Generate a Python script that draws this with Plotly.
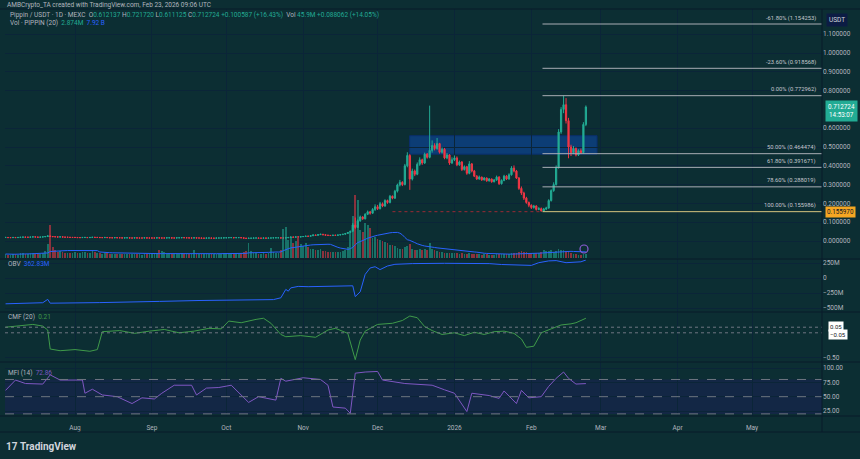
import pandas as pd
import plotly.graph_objects as go

W, H = 860, 459
def px(x): return x / W
def py(y): return 1 - y / H

BG = "#0c2e33"
GRID = "#0b2538"
SEP = "#081a2a"
TXT = "#b2b5be"
UP = "#22ab94"
DN = "#f23645"
FONT = "Roboto, 'Liberation Sans', sans-serif"

# ---------------- daily OHLCV (Jul 4 2025 .. Feb 23 2026) ----------------
dates = pd.date_range("2025-07-04", "2026-02-23", freq="D")

opens = [
 0.019,0.019,0.018,0.018,0.019,0.018,0.019,0.020,0.021,0.020,0.020,0.021,0.022,0.021,0.020,0.021,0.022,0.024,0.027,0.024,0.023,0.022,0.021,0.022,0.021,0.020,0.020,0.019,
 0.019,0.019,0.018,0.018,0.019,0.019,0.018,0.019,0.020,0.019,0.019,0.018,0.018,0.019,0.018,0.017,0.017,0.018,0.017,0.017,0.016,0.017,0.017,0.016,0.016,0.017,0.016,0.016,0.016,0.017,0.016,
 0.016,0.016,0.016,0.017,0.016,0.016,0.016,0.017,0.017,0.016,0.016,0.017,0.017,0.018,0.017,0.017,0.016,0.016,0.017,0.016,0.016,0.015,0.015,0.016,0.016,0.015,0.015,0.016,0.016,0.016,
 0.017,0.017,0.018,0.018,0.017,0.018,0.018,0.017,0.015,0.014,0.015,0.015,0.016,0.016,0.015,0.015,0.016,0.015,0.016,0.016,0.017,0.017,0.017,0.016,0.016,0.017,0.019,0.021,0.020,0.022,0.021,
 0.023,0.024,0.026,0.025,0.028,0.032,0.030,0.034,0.036,0.033,0.031,0.030,0.029,0.031,0.030,0.032,0.034,0.036,0.040,0.045,0.052,0.085,0.072,0.108,0.128,0.118,0.142,0.155,0.148,0.168,
 0.182,0.172,0.198,0.186,0.215,0.205,0.238,0.228,0.265,0.298,0.312,0.300,0.400,0.455,0.330,0.372,0.355,0.408,0.432,0.415,0.462,0.445,0.482,0.508,0.492,0.518,0.472,0.488,0.442,0.458,0.415,
 0.432,0.442,0.405,0.420,0.380,0.395,0.360,0.410,0.372,0.345,0.330,0.340,0.325,0.335,0.320,0.330,0.315,0.325,0.340,0.305,0.322,0.345,0.330,0.352,0.388,0.372,0.335,0.280,0.255,0.228,0.205,
 0.190,0.178,0.186,0.168,0.172,0.160,0.170,0.175,0.215,0.268,0.300,0.390,0.580,0.700,0.725,0.640,0.500,0.470,0.492,0.458,0.480,0.470,0.620,
]
highs = [
 0.020,0.020,0.019,0.020,0.020,0.020,0.021,0.022,0.022,0.021,0.022,0.023,0.023,0.022,0.022,0.023,0.025,0.030,0.028,0.025,0.024,0.023,0.023,0.023,0.022,0.021,0.021,0.020,
 0.020,0.020,0.019,0.020,0.020,0.020,0.020,0.021,0.021,0.020,0.020,0.019,0.020,0.020,0.019,0.018,0.019,0.019,0.018,0.018,0.018,0.018,0.018,0.017,0.018,0.018,0.017,0.017,0.018,0.018,0.017,
 0.017,0.017,0.018,0.018,0.017,0.017,0.018,0.018,0.018,0.017,0.018,0.018,0.019,0.019,0.018,0.018,0.017,0.018,0.018,0.017,0.017,0.016,0.017,0.017,0.017,0.016,0.017,0.017,0.017,0.018,
 0.018,0.019,0.019,0.019,0.019,0.019,0.019,0.018,0.016,0.016,0.016,0.017,0.017,0.017,0.016,0.017,0.017,0.017,0.017,0.018,0.018,0.018,0.018,0.017,0.018,0.021,0.024,0.023,0.024,0.023,0.025,
 0.025,0.027,0.027,0.029,0.034,0.033,0.035,0.038,0.037,0.034,0.032,0.031,0.032,0.032,0.033,0.035,0.037,0.042,0.047,0.055,0.095,0.125,0.115,0.135,0.132,0.148,0.162,0.160,0.175,0.195,
 0.192,0.208,0.205,0.222,0.220,0.245,0.242,0.272,0.305,0.325,0.318,0.410,0.472,0.462,0.385,0.380,0.418,0.445,0.438,0.470,0.468,0.720,0.535,0.520,0.548,0.522,0.498,0.495,0.468,0.462,0.445,
 0.455,0.450,0.428,0.425,0.402,0.400,0.425,0.415,0.378,0.350,0.348,0.342,0.340,0.338,0.335,0.332,0.330,0.348,0.345,0.328,0.352,0.350,0.360,0.398,0.402,0.378,0.340,0.290,0.262,0.235,0.210,
 0.195,0.192,0.190,0.180,0.178,0.176,0.182,0.222,0.275,0.312,0.402,0.595,0.712,0.773,0.760,0.655,0.512,0.505,0.498,0.488,0.492,0.632,0.721,
]
lows = [
 0.018,0.017,0.017,0.018,0.017,0.018,0.019,0.020,0.019,0.019,0.020,0.021,0.020,0.019,0.020,0.021,0.022,0.023,0.023,0.022,0.021,0.020,0.021,0.020,0.019,0.019,0.018,0.018,
 0.018,0.017,0.017,0.017,0.018,0.017,0.017,0.018,0.018,0.018,0.017,0.017,0.017,0.017,0.016,0.016,0.016,0.016,0.016,0.015,0.015,0.016,0.015,0.015,0.015,0.015,0.015,0.015,0.015,0.015,0.015,
 0.015,0.015,0.015,0.015,0.015,0.015,0.015,0.016,0.015,0.015,0.015,0.016,0.016,0.016,0.016,0.015,0.015,0.015,0.015,0.015,0.014,0.014,0.014,0.015,0.014,0.014,0.014,0.015,0.015,0.015,
 0.016,0.016,0.017,0.016,0.016,0.017,0.016,0.014,0.012,0.013,0.014,0.014,0.015,0.014,0.014,0.014,0.014,0.014,0.015,0.015,0.016,0.016,0.015,0.015,0.015,0.016,0.018,0.019,0.019,0.020,0.020,
 0.022,0.023,0.024,0.024,0.027,0.029,0.029,0.033,0.032,0.030,0.029,0.028,0.028,0.029,0.029,0.031,0.033,0.035,0.039,0.044,0.050,0.065,0.070,0.102,0.112,0.115,0.138,0.140,0.145,0.160,
 0.165,0.168,0.180,0.182,0.198,0.200,0.222,0.224,0.258,0.290,0.292,0.296,0.392,0.272,0.322,0.345,0.350,0.400,0.405,0.410,0.438,0.440,0.470,0.482,0.485,0.465,0.465,0.435,0.435,0.405,0.410,
 0.425,0.398,0.400,0.372,0.375,0.352,0.355,0.365,0.340,0.325,0.326,0.320,0.322,0.315,0.316,0.310,0.312,0.320,0.298,0.300,0.318,0.325,0.326,0.348,0.365,0.330,0.272,0.245,0.218,0.198,0.180,
 0.170,0.172,0.162,0.164,0.156,0.158,0.165,0.172,0.210,0.262,0.295,0.385,0.570,0.680,0.625,0.440,0.452,0.462,0.450,0.452,0.462,0.465,0.611,
]
closes = [
 0.019,0.018,0.018,0.019,0.018,0.019,0.020,0.021,0.020,0.020,0.021,0.022,0.021,0.020,0.021,0.022,0.024,0.027,0.024,0.023,0.022,0.021,0.022,0.021,0.020,0.020,0.019,0.019,
 0.019,0.018,0.018,0.019,0.019,0.018,0.019,0.020,0.019,0.019,0.018,0.018,0.019,0.018,0.017,0.017,0.018,0.017,0.017,0.016,0.017,0.017,0.016,0.016,0.017,0.016,0.016,0.016,0.017,0.016,0.016,
 0.016,0.016,0.017,0.016,0.016,0.016,0.017,0.017,0.016,0.016,0.017,0.017,0.018,0.017,0.017,0.016,0.016,0.017,0.016,0.016,0.015,0.015,0.016,0.016,0.015,0.015,0.016,0.016,0.016,0.017,
 0.017,0.018,0.018,0.017,0.018,0.018,0.017,0.015,0.014,0.015,0.015,0.016,0.016,0.015,0.015,0.016,0.015,0.016,0.016,0.017,0.017,0.017,0.016,0.016,0.017,0.019,0.021,0.020,0.022,0.021,0.023,
 0.024,0.026,0.025,0.028,0.032,0.030,0.034,0.036,0.033,0.031,0.030,0.029,0.031,0.030,0.032,0.034,0.036,0.040,0.045,0.052,0.085,0.072,0.108,0.128,0.118,0.142,0.155,0.148,0.168,0.182,
 0.172,0.198,0.186,0.215,0.205,0.238,0.228,0.265,0.298,0.312,0.300,0.400,0.455,0.330,0.372,0.355,0.408,0.432,0.415,0.462,0.445,0.482,0.508,0.492,0.518,0.472,0.488,0.442,0.458,0.415,0.432,
 0.442,0.405,0.420,0.380,0.395,0.360,0.410,0.372,0.345,0.330,0.340,0.325,0.335,0.320,0.330,0.315,0.325,0.340,0.305,0.322,0.345,0.330,0.352,0.388,0.372,0.335,0.280,0.255,0.228,0.205,0.190,
 0.178,0.186,0.168,0.172,0.160,0.170,0.175,0.215,0.268,0.300,0.390,0.580,0.700,0.725,0.640,0.500,0.470,0.492,0.458,0.480,0.470,0.620,0.712724,
]
volumes = [  # millions
 40,35,32,45,38,35,48,55,42,40,50,55,45,42,45,55,70,140,330,110,80,65,70,60,55,50,48,50,
 60,55,50,58,62,50,55,70,58,52,48,45,50,46,42,40,44,40,38,36,40,42,38,36,40,38,36,35,40,38,36,
 40,42,55,80,75,60,45,48,40,38,42,44,50,45,42,38,40,80,45,40,38,36,42,44,38,36,40,42,44,48,
 50,55,52,45,50,48,46,60,75,150,70,55,50,45,44,48,45,50,100,60,55,48,80,290,310,180,210,150,170,200,140,
 120,150,110,90,95,80,85,90,75,70,65,60,62,58,60,65,70,85,110,250,420,630,580,280,260,350,330,300,200,210,
 190,180,170,160,150,130,130,120,100,95,90,110,120,140,95,85,80,90,85,90,80,150,95,80,70,65,60,55,52,50,48,
 50,48,45,46,44,42,48,45,40,38,36,35,38,36,34,33,35,38,40,36,38,36,40,55,50,48,60,70,65,58,55,
 55,48,52,46,62,80,75,70,85,65,70,95,85,80,75,70,48,40,36,34,32,45,40,
]
assert len(opens) == len(highs) == len(lows) == len(closes) == len(volumes) == len(dates)

# ---------------- indicators ----------------
obv_dates = ["2025-07-04","2025-07-19","2025-07-21","2025-07-22","2025-08-11","2025-09-02","2025-09-04",
             "2025-09-20","2025-10-20","2025-10-23","2025-10-24","2025-10-25","2025-10-26","2025-10-27",
             "2025-10-30","2025-11-03","2025-11-21","2025-11-22","2025-11-24","2025-11-26","2025-11-28",
             "2025-11-30","2025-12-02","2025-12-05","2025-12-08","2025-12-15","2025-12-28","2026-01-15",
             "2026-01-20","2026-02-01","2026-02-04","2026-02-08","2026-02-11","2026-02-15","2026-02-21","2026-02-23"]
obv_vals = [-430,-412,-356,-420,-410,-400,-390,-375,-360,-330,-270,-190,-220,-165,-140,-145,-130,-310,
            -230,60,167,188,140,200,228,240,245,240,225,210,255,285,290,255,270,300]

cmf_dates = ["2025-07-04","2025-07-10","2025-07-15","2025-07-19","2025-07-21","2025-07-22","2025-07-26",
             "2025-08-01","2025-08-07","2025-08-10","2025-08-12","2025-08-19","2025-08-25","2025-08-31",
             "2025-09-06","2025-09-12","2025-09-18","2025-09-24","2025-09-29","2025-10-02","2025-10-07",
             "2025-10-13","2025-10-16","2025-10-19","2025-10-23","2025-10-25","2025-10-31","2025-11-06",
             "2025-11-11","2025-11-14","2025-11-19","2025-11-22","2025-11-24","2025-11-26","2025-12-01",
             "2025-12-07","2025-12-11","2025-12-14","2025-12-17","2025-12-20","2025-12-23","2025-12-27",
             "2026-01-01","2026-01-05","2026-01-09","2026-01-13","2026-01-17","2026-01-21","2026-01-25",
             "2026-01-28","2026-01-30","2026-02-02","2026-02-05","2026-02-09","2026-02-13","2026-02-17",
             "2026-02-19","2026-02-23"]
cmf_vals = [0.05,0.08,0.10,0.07,0.00,-0.34,-0.37,-0.35,-0.38,-0.35,-0.03,-0.01,-0.06,-0.02,0.01,-0.05,
            -0.02,0.03,0.02,0.16,0.13,0.19,0.21,0.12,-0.08,-0.12,-0.10,-0.13,0.00,0.03,-0.06,-0.53,-0.18,
            -0.02,0.10,0.12,0.17,0.25,0.22,0.06,-0.01,-0.08,-0.05,-0.10,-0.04,-0.08,-0.03,-0.02,-0.06,
            -0.16,-0.31,-0.29,-0.05,0.02,0.09,0.11,0.13,0.21]

mfi_dates = ["2025-07-04","2025-07-08","2025-07-12","2025-07-19","2025-07-22","2025-07-26","2025-08-04",
             "2025-08-05","2025-08-08","2025-08-12","2025-08-18","2025-08-24","2025-08-28","2025-09-02",
             "2025-09-05","2025-09-10","2025-09-17","2025-09-19","2025-09-23","2025-09-28","2025-10-03",
             "2025-10-10","2025-10-14","2025-10-21","2025-10-23","2025-10-25","2025-11-01","2025-11-08",
             "2025-11-11","2025-11-13","2025-11-18","2025-11-20","2025-11-22","2025-11-26","2025-12-01",
             "2025-12-03","2025-12-12","2025-12-23","2025-12-28","2026-01-01","2026-01-06","2026-01-08",
             "2026-01-15","2026-01-19","2026-01-21","2026-01-26","2026-01-28","2026-01-31","2026-02-05",
             "2026-02-08","2026-02-11","2026-02-14","2026-02-16","2026-02-19","2026-02-23"]
mfi_vals = [61,79,73,72,88,79,79,56,63,53,50,38,48,46,56,70,70,53,65,66,70,40,50,44,82,77,83,80,70,
            32,30,21,91,93,94,79,73,70,62,56,24,56,52,47,60,38,61,48,50,68,82,93,82,72,72.86]

# ---------------- chart annotations / levels ----------------
fib_levels = [1.154253, 0.918568, 0.772962, 0.464474, 0.391671, 0.288019, 0.155986]
fib_names = ["-61.80%", "-23.60%", "0.00%", "50.00%", "61.80%", "78.60%", "100.00%"]
zone_low, zone_high = 0.462, 0.560
hline_price = 0.155970
last_price = 0.712724

x_range = ["2025-07-03 18:29", "2026-05-29 05:00"]
month_ticks = ["2025-08-01","2025-09-01","2025-10-01","2025-11-01","2025-12-01",
               "2026-01-01","2026-02-01","2026-03-01","2026-04-01","2026-05-01"]
month_labels = ["Aug","Sep","Oct","Nov","Dec","2026","Feb","Mar","Apr","May"]
price_ticks = [0.0,0.1,0.2,0.3,0.4,0.5,0.6,0.8,0.9,1.0,1.1]

# ---------------- figure ----------------
vol_colors = ["rgba(34,171,148,0.55)" if c >= o else "rgba(242,54,69,0.55)" for o, c in zip(opens, closes)]
vol_ma = pd.Series(volumes).rolling(20, min_periods=1).mean()

fig = go.Figure()
fig.add_trace(go.Candlestick(
    x=dates, open=opens, high=highs, low=lows, close=closes,
    increasing=dict(line=dict(color=UP, width=1), fillcolor=UP),
    decreasing=dict(line=dict(color=DN, width=1), fillcolor=DN),
    whiskerwidth=0, xaxis="x", yaxis="y", hoverinfo="skip"))
fig.add_trace(go.Bar(x=dates, y=volumes, marker=dict(color=vol_colors, line=dict(width=0)),
                     width=86400000 * 0.7, xaxis="x", yaxis="y5"))
fig.add_trace(go.Scatter(x=dates, y=vol_ma, mode="lines", line=dict(color="#2962ff", width=1),
                         xaxis="x", yaxis="y5"))
fig.add_trace(go.Scatter(x=obv_dates, y=obv_vals, mode="lines", line=dict(color="#2962ff", width=1),
                         xaxis="x2", yaxis="y2"))
fig.add_trace(go.Scatter(x=cmf_dates, y=cmf_vals, mode="lines", line=dict(color="#3f9a4a", width=1),
                         xaxis="x3", yaxis="y3"))
fig.add_trace(go.Scatter(x=mfi_dates, y=mfi_vals, mode="lines", line=dict(color="#7e57c2", width=1),
                         xaxis="x4", yaxis="y4"))

xdom = [px(5), px(822)]
def xax(anchor, labels=False):
    d = dict(domain=xdom, range=x_range, type="date", anchor=anchor, tickvals=month_ticks,
             showgrid=True, gridcolor=GRID, gridwidth=1, zeroline=False, showline=False,
             rangeslider=dict(visible=False), fixedrange=True)
    if labels:
        d.update(showticklabels=True, ticktext=month_labels, ticks="outside", ticklen=5,
                 tickcolor=BG, tickfont=dict(size=6.5, color=TXT))
    else:
        d.update(showticklabels=False)
    return d

def yax(top, bottom, rng, tickvals, ticktext, **kw):
    d = dict(domain=[py(bottom), py(top)], range=rng, anchor=kw.pop("anchor", "x"), side="right",
             tickvals=tickvals, ticktext=ticktext, showgrid=True, gridcolor=GRID, zeroline=False,
             showline=False, fixedrange=True, ticks="", tickfont=dict(size=6.5, color=TXT))
    d.update(kw)
    return d

p_top = (241 - 9) / 188
p_bot = (241 - 258) / 188
fig.update_layout(
    width=W, height=H, margin=dict(l=0, r=0, t=0, b=0),
    paper_bgcolor=BG, plot_bgcolor=BG, showlegend=False, bargap=0,
    font=dict(family=FONT, size=7, color=TXT),
    xaxis=xax("y"), xaxis2=xax("y2"), xaxis3=xax("y3"), xaxis4=xax("y4", labels=True),
    yaxis=yax(9, 258, [p_bot, p_top], price_ticks, [f"{v:.6f}" for v in price_ticks]),
    yaxis5=dict(domain=[py(258), py(9)], range=[0, 2500], overlaying="y", anchor="x",
                visible=False, fixedrange=True),
    yaxis2=yax(259, 312, [-566.7, 316.7], [250, 0, -250, -500], ["250M", "0", "\u2212250M", "\u2212500M"],
               anchor="x2"),
    yaxis3=yax(313, 361, [-0.554, 0.304], [-0.5], ["\u22120.50"], anchor="x3"),
    yaxis4=yax(362, 416, [16.3, 110.5], [100, 75, 50, 25], ["100.00", "75.00", "50.00", "25.00"],
               anchor="x4"),
)

shapes = []
shapes.append(dict(type="rect", xref="x", yref="y", x0="2025-12-13 22:00", x1="2026-02-27 12:00",
                   y0=zone_low, y1=zone_high, fillcolor="rgba(13,71,161,0.6)",
                   line=dict(color="#0a2f6e", width=1), layer="below"))
shapes.append(dict(type="line", xref="x", yref="y", x0="2025-12-07", x1="2026-02-05 12:00",
                   y0=hline_price, y1=hline_price, line=dict(color="#9a2a35", width=1, dash="dot")))
for lvl in fib_levels:
    col = "#d6c57e" if lvl == fib_levels[-1] else "#a9adb5"
    shapes.append(dict(type="line", xref="x", yref="y", x0="2026-02-05 12:00", x1=x_range[1],
                       y0=lvl, y1=lvl, line=dict(color=col, width=1)))
for v in (0.05, -0.05):
    shapes.append(dict(type="line", xref="x3 domain", yref="y3", x0=0, x1=1, y0=v, y1=v,
                       line=dict(color="#6f7682", width=1, dash="dot")))
shapes.append(dict(type="rect", xref="x4 domain", yref="y4", x0=0, x1=1, y0=20, y1=80,
                   fillcolor="rgba(40,20,120,0.28)", line=dict(width=0), layer="below"))
for v in (80, 50, 20):
    shapes.append(dict(type="line", xref="x4 domain", yref="y4", x0=0, x1=1, y0=v, y1=v,
                       line=dict(color="#6f7682", width=1, dash="dash")))
for yy in (9, 259, 312, 362, 416):
    shapes.append(dict(type="line", xref="paper", yref="paper", x0=0, x1=1, y0=py(yy), y1=py(yy),
                       line=dict(color=SEP, width=1)))
shapes.append(dict(type="line", xref="paper", yref="paper", x0=px(822), x1=px(822), y0=py(432), y1=py(9),
                   line=dict(color=SEP, width=1)))
shapes.append(dict(type="line", xref="paper", yref="paper", x0=0, x1=1, y0=py(432), y1=py(432),
                   line=dict(color=SEP, width=1)))
shapes.append(dict(type="circle", xref="paper", yref="paper", x0=px(580), x1=px(588), y0=py(253), y1=py(245),
                   line=dict(color="#8e5cd6", width=1.2)))
fig.update_layout(shapes=shapes)

ann = []
def A(x, y, text, **kw):
    d = dict(xref="paper", yref="paper", x=x, y=y, text=text, showarrow=False,
             xanchor="left", yanchor="middle", font=dict(size=6.5, color=TXT))
    d.update(kw)
    ann.append(d)

A(px(5), py(5), "AMBCrypto_TA created with TradingView.com, Feb 23, 2026 09:06 UTC")
g = "<span style='color:#22ab94'>"
A(px(8), py(14.5), "Pippin / USDT · 1D · MEXC  O" + g + "0.612137</span> H" + g + "0.721720</span> L" + g +
  "0.611125</span> C" + g + "0.712724 +0.100587 (+16.43%)</span>  Vol " + g + "45.9M</span> " + g +
  "+0.088062 (+14.05%)</span>")
A(px(8), py(22.5), "Vol · PIPPIN (20)  " + g + "2.874M</span>  <span style='color:#2962ff'>7.92 B</span>")

for lvl, name in zip(fib_levels, fib_names):
    ann.append(dict(xref="paper", yref="y", x=px(818), y=lvl, yshift=6, text=f"{name} ({lvl:.6f})",
                    showarrow=False, xanchor="right", yanchor="middle", font=dict(size=5.8, color="#c4c7ce")))

A(px(826), py(20), "USDT", bgcolor="#0c1c44", font=dict(size=6.5, color="#d1d4dc"), borderpad=2)
ann.append(dict(xref="paper", yref="y", x=px(825), y=last_price, yshift=-3.5, text="0.712724<br>14:53:07",
                showarrow=False, xanchor="left", yanchor="middle", bgcolor=UP, borderpad=2,
                font=dict(size=6.3, color="#ffffff")))
ann.append(dict(xref="paper", yref="y", x=px(825), y=hline_price, text="0.155970",
                showarrow=False, xanchor="left", yanchor="middle", bgcolor="#f5a623", borderpad=1,
                font=dict(size=6.3, color="#131722")))
ann.append(dict(xref="paper", yref="paper", x=px(828), y=py(326), text="0.05", showarrow=False,
                xanchor="left", yanchor="middle", bgcolor="#ffffff", borderpad=1, font=dict(size=6, color="#131722")))
ann.append(dict(xref="paper", yref="paper", x=px(828), y=py(334), text="\u22120.05", showarrow=False,
                xanchor="left", yanchor="middle", bgcolor="#ffffff", borderpad=1, font=dict(size=6, color="#131722")))

A(px(6), py(263.5), "OBV  <span style='color:#2962ff'>362.83M</span>")
A(px(6), py(316.5), "CMF (20)  <span style='color:#3f9a4a'>0.21</span>")
A(px(6), py(372.5), "MFI (14)  <span style='color:#7e57c2'>72.86</span>")

A(px(4), py(446), "<b>17</b> <b>TradingView</b>", font=dict(size=10, color="#d1d4dc"))

fig.update_layout(annotations=ann)
fig.write_html("out.html", config={"displayModeBar": False},
               post_script="document.body.style.margin='0';document.body.style.overflow='hidden';"
                           "document.body.style.background='" + BG + "';")
